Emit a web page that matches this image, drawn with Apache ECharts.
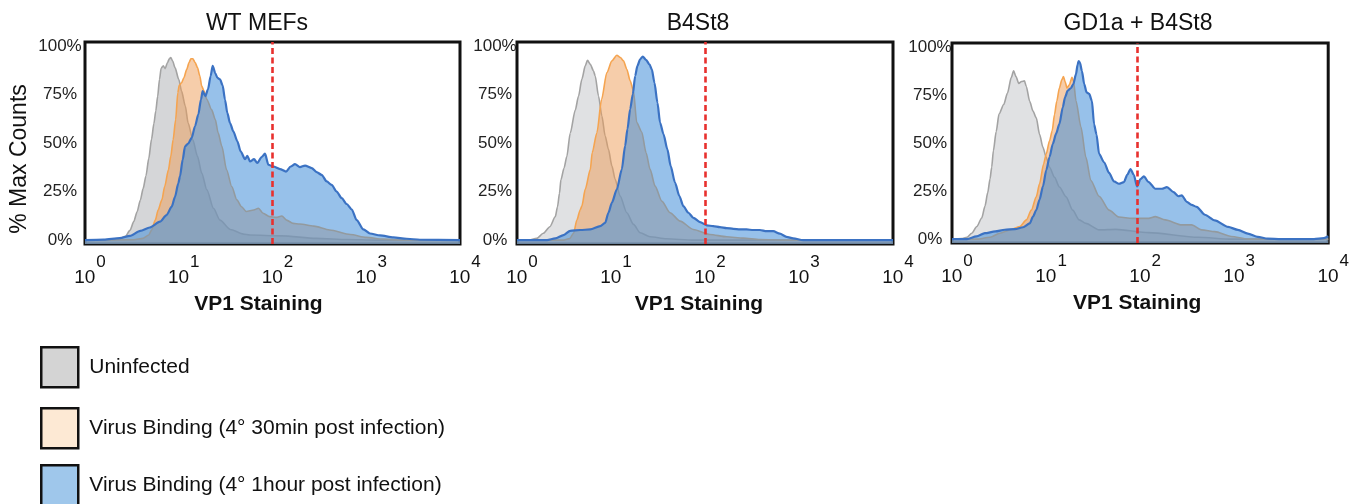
<!DOCTYPE html>
<html>
<head>
<meta charset="utf-8">
<title>VP1 Staining histograms</title>
<script src="https://cdn.jsdelivr.net/npm/echarts@6/dist/echarts.min.js"></script>
<style>
  html, body { margin: 0; padding: 0; background: #ffffff; }
  #chart { width: 1352px; height: 504px; }
</style>
</head>
<body>
<div id="chart"></div>
<script>
// ---------- DATA (x = log10 of VP1 staining, y = % of max counts) ----------
const panelTitles = ['WT MEFs', 'B4St8', 'GD1a + B4St8'];
const seriesNames = ['Uninfected', 'Virus Binding (4\u00b0 30min post infection)', 'Virus Binding (4\u00b0 1hour post infection)'];
const xTickExponents = [0, 1, 2, 3, 4];
const yTicks = [0, 25, 50, 75, 100];
const thresholdLog = [2.0, 2.0, 1.97];

const wtUninfected = [[0,0],[0.3,0.2],[0.37,0.7],[0.43,2],[0.48,5],[0.52,9.5],[0.555,14.5],[0.59,20.5],[0.62,26.5],[0.65,33],[0.68,42],[0.71,52],[0.735,60],[0.755,66.5],[0.775,74],[0.795,82.8],[0.812,88.5],[0.835,89.7],[0.855,88.3],[0.88,91.4],[0.9,93.4],[0.915,94],[0.935,92.2],[0.96,88.8],[1,82.8],[1.03,76.7],[1.07,69],[1.1,60.3],[1.15,51.7],[1.2,43.1],[1.245,34.5],[1.3,25.9],[1.37,16.4],[1.44,10.3],[1.55,5.5],[1.69,3.1],[1.76,2.6],[2.1,2.2],[2.47,0.9],[2.8,0.3],[3.1,0],[4,0]];
const wtVirus30min = [[0,0],[0.52,0.2],[0.62,0.9],[0.68,2.6],[0.71,5.2],[0.75,10.3],[0.78,15.5],[0.82,20.7],[0.85,27.6],[0.89,36.2],[0.915,43.1],[0.94,51.7],[0.967,62.1],[0.99,75.9],[1.005,79.7],[1.03,81],[1.055,83.6],[1.085,87.9],[1.11,91.4],[1.13,93.4],[1.15,93.4],[1.175,91.4],[1.2,88.8],[1.225,84.5],[1.245,79.3],[1.27,76.7],[1.3,72.4],[1.35,67.2],[1.39,62.1],[1.42,55.2],[1.46,48.3],[1.51,36.2],[1.565,27.6],[1.62,20.7],[1.67,17.2],[1.72,14.7],[1.8,15.5],[1.85,16.4],[1.9,13.8],[1.97,12.1],[2.04,11.7],[2.1,12.4],[2.15,10.3],[2.22,8.6],[2.29,8.3],[2.44,7.2],[2.61,5.2],[2.83,2.9],[3,1.4],[3.18,0.5],[3.36,0],[4,0]];
const wtVirus1h = [[0,0],[0.2,0.3],[0.37,1],[0.48,2.2],[0.59,4.8],[0.69,6.5],[0.8,9.5],[0.87,12.9],[0.925,17.2],[0.96,22.3],[0.995,29.2],[1.013,32.8],[1.042,41.4],[1.067,48.3],[1.1,49.7],[1.138,52.6],[1.173,58.6],[1.209,64.7],[1.237,72.4],[1.255,76.7],[1.284,74.1],[1.312,77.6],[1.34,84.5],[1.362,89.7],[1.39,85.9],[1.412,83.6],[1.44,82.8],[1.468,79.7],[1.493,72.4],[1.518,65.5],[1.547,60.3],[1.582,56],[1.625,50.9],[1.66,45.7],[1.707,41.7],[1.732,43.4],[1.76,40.5],[1.803,41.7],[1.838,39.7],[1.884,42.8],[1.92,44.5],[1.956,38.8],[2.009,37.9],[2.08,36.6],[2.144,35.3],[2.194,37.9],[2.24,39.1],[2.293,37.6],[2.347,38.4],[2.418,37.1],[2.471,35],[2.524,33.6],[2.578,30.2],[2.631,28.4],[2.684,25],[2.738,21.6],[2.791,18.6],[2.844,15.9],[2.898,10.3],[2.969,5.5],[3.04,3.4],[3.147,2.4],[3.289,1.4],[3.431,0.7],[3.573,0.2],[4,0]];

const b4Uninfected = [[0,0],[0.12,0],[0.21,0.9],[0.28,3.5],[0.35,6.9],[0.407,12],[0.431,17.2],[0.452,24.1],[0.467,31],[0.5,37],[0.53,43],[0.566,55],[0.62,67],[0.655,74.2],[0.69,82.8],[0.726,89.7],[0.75,92.6],[0.78,90.5],[0.814,87.1],[0.832,84.5],[0.867,74.2],[0.903,63.9],[0.938,53.6],[0.973,46.7],[1.01,38.1],[1.044,31.3],[1.097,22.7],[1.168,14.1],[1.24,8.1],[1.31,3.8],[1.416,1.7],[1.59,0.7],[1.88,0],[4,0]];
const b4Virus30min = [[0,0],[0.5,0],[0.56,0.8],[0.602,3.5],[0.637,10.3],[0.672,15.5],[0.69,17.5],[0.726,26.1],[0.78,36.4],[0.8,45],[0.85,55.3],[0.9,72.5],[0.956,86.3],[1.01,92.3],[1.062,95.2],[1.1,94],[1.133,92.3],[1.168,88],[1.204,82],[1.239,76.8],[1.274,60.5],[1.327,55.7],[1.373,45],[1.416,36.4],[1.469,27.8],[1.54,20.1],[1.628,14.1],[1.735,9.8],[1.876,5.5],[2.053,2.9],[2.23,1.7],[2.407,1],[2.584,0.3],[2.867,0],[4,0]];
const b4Virus1h = [[0,0],[0.32,0],[0.407,0.9],[0.495,2.6],[0.566,4.8],[0.672,5.2],[0.779,5.5],[0.885,7.2],[0.938,8.9],[0.973,14.1],[1.009,19.2],[1.062,26.1],[1.115,36.4],[1.15,48.5],[1.175,57.1],[1.204,67.4],[1.232,75.1],[1.257,84.5],[1.281,89.7],[1.31,93.1],[1.338,94.5],[1.373,92.8],[1.409,90.5],[1.434,88],[1.462,81.1],[1.494,70.8],[1.522,60.5],[1.558,54.6],[1.6,46.7],[1.635,38.1],[1.681,29.6],[1.727,22.7],[1.77,17.5],[1.823,14.1],[1.876,11.5],[1.947,9.3],[2.018,7.6],[2.088,7.2],[2.159,6.7],[2.23,6.2],[2.301,5.8],[2.372,5.5],[2.442,5.5],[2.513,5.2],[2.584,5.2],[2.655,4.6],[2.726,4.6],[2.796,3.3],[2.867,1.7],[2.938,0.9],[3.044,0],[4,0]];

const gdUninfected = [[0,0],[0.1,0.3],[0.16,1],[0.21,3.1],[0.264,6.6],[0.316,11],[0.351,17.2],[0.38,24.2],[0.404,31.2],[0.422,37.4],[0.44,46],[0.47,56],[0.5,65],[0.55,70],[0.59,76],[0.63,84],[0.655,87.5],[0.68,84.6],[0.71,81],[0.74,82],[0.77,82.3],[0.79,79.4],[0.826,71.7],[0.861,66.6],[0.896,63.1],[0.931,54.5],[0.967,47.7],[1.002,42.5],[1.037,37.4],[1.09,32.2],[1.142,27.1],[1.213,22],[1.283,15.1],[1.353,10],[1.424,8.2],[1.564,4.8],[1.74,5.1],[2.09,3.4],[2.62,1],[2.97,0],[4,0]];
const gdVirus30min = [[0,0],[0.264,0],[0.404,1],[0.51,3.1],[0.615,4.8],[0.721,6.5],[0.791,10],[0.844,15.1],[0.896,22],[0.931,28.8],[0.974,39.1],[1.002,44.3],[1.037,51.1],[1.065,56.3],[1.09,64.8],[1.114,71.7],[1.142,78.6],[1.167,82.8],[1.185,84.6],[1.202,82],[1.223,78.6],[1.248,80.3],[1.276,84.1],[1.293,82],[1.318,72],[1.371,58.3],[1.424,42.5],[1.476,30.5],[1.564,22.3],[1.67,15.1],[1.775,11.5],[1.916,10.8],[2.091,10.8],[2.162,11.7],[2.267,10],[2.443,7.4],[2.548,7.4],[2.654,4.8],[2.794,3.9],[2.97,1.4],[3.146,0],[4,0]];
const gdVirus1h = [[0,0],[0.16,0],[0.26,1.4],[0.35,3.1],[0.46,4],[0.56,4.9],[0.668,5.2],[0.756,6.2],[0.826,8.2],[0.861,11.7],[0.896,15.1],[0.931,20.6],[0.967,27.4],[1.002,35.8],[1.037,42.7],[1.072,49.6],[1.107,54.9],[1.142,60],[1.178,68.6],[1.202,73.8],[1.23,77.2],[1.265,78.6],[1.29,80.6],[1.318,85.8],[1.336,90.9],[1.346,92.6],[1.36,91.8],[1.381,87.5],[1.406,80.6],[1.431,76.3],[1.459,75.5],[1.487,72],[1.511,59.7],[1.536,54.5],[1.564,44.3],[1.617,40],[1.67,34.5],[1.722,30],[1.775,28.8],[1.828,29.7],[1.863,33.4],[1.898,36.4],[1.933,33.4],[1.968,27.4],[2.004,31.2],[2.039,32.6],[2.091,29.7],[2.162,26.2],[2.232,26.2],[2.285,27.1],[2.355,24.5],[2.408,22.3],[2.443,22.8],[2.496,19.4],[2.548,17.8],[2.601,16.8],[2.689,12.7],[2.794,9.8],[2.935,6.4],[3.04,4.8],[3.146,2.9],[3.251,1.2],[3.357,0.3],[3.497,0],[3.673,0],[3.849,0],[3.954,0.5],[4,1.5]];

const panelData = [
  [wtUninfected, wtVirus30min, wtVirus1h],
  [b4Uninfected, b4Virus30min, b4Virus1h],
  [gdUninfected, gdVirus30min, gdVirus1h]
];

// ---------- STYLE ----------
const FONT = '"Liberation Sans", Arial, sans-serif';
const grayFills = ['rgba(160,162,166,0.44)', 'rgba(168,172,178,0.36)', 'rgba(168,172,178,0.36)'];
const fills = [null, 'rgba(238,155,85,0.5)', 'rgba(72,146,218,0.57)'];
const lines = ['#a3a3a3', '#f5a450', '#3b72c3'];
const lineWidths = [1.6, 1.6, 2.2];
const legendFills = ['#d4d4d4', '#fde9d4', '#9fc7eb'];
const legendTops = [346, 407, 464];

const grids = [
  { left: 85, top: 42, width: 375, height: 202 },
  { left: 517, top: 42, width: 376, height: 202 },
  { left: 952, top: 43, width: 379, height: 200 }
];
const titleX = [257, 698, 1138];
const xNameShift = [14, 6, 3];
const yLabelMargin = [25, 22, 22];

const chart = echarts.init(document.getElementById('chart'), null, { renderer: 'canvas' });

const series = [];
panelData.forEach((sets, gi) => {
  sets.forEach((d, si) => {
    const s = {
      type: 'line',
      name: seriesNames[si],
      data: d,
      xAxisIndex: gi,
      yAxisIndex: gi,
      showSymbol: false,
      symbol: 'none',
      smooth: 0.25,
      smoothMonotone: 'x',
      z: 2 + si,
      silent: true,
      lineStyle: { color: lines[si], width: lineWidths[si] },
      itemStyle: { color: lines[si] },
      areaStyle: { color: si === 0 ? grayFills[gi] : fills[si], origin: 'start', opacity: 1 }
    };
    if (si === 2) {
      s.markLine = {
        silent: true,
        symbol: ['none', 'none'],
        label: { show: false },
        lineStyle: { color: '#e8302e', type: [6, 3.5], width: 2.6 },
        data: [{ xAxis: thresholdLog[gi] }]
      };
    }
    series.push(s);
  });
});

const option = {
  animation: false,
  backgroundColor: '#ffffff',
  title: panelTitles.map((t, i) => ({
    text: t,
    left: titleX[i],
    top: 12,
    padding: 0,
    textAlign: 'center',
    textStyle: { fontSize: 23, fontWeight: 'normal', color: '#111', fontFamily: FONT }
  })),
  legend: seriesNames.map((n, i) => ({
    orient: 'vertical',
    left: 40,
    top: legendTops[i],
    padding: 0,
    itemWidth: 37,
    itemHeight: 40,
    icon: 'rect',
    selectedMode: false,
    textStyle: { fontSize: 21, color: '#111', fontFamily: FONT, padding: [0, 0, 0, 6] },
    data: [{ name: n, itemStyle: { color: legendFills[i], borderColor: '#111', borderWidth: 2.5 } }]
  })),
  grid: grids.map(g => Object.assign({ show: true, borderColor: '#111', borderWidth: 3, backgroundColor: 'transparent' }, g)),
  xAxis: grids.map((g, i) => ({
    gridIndex: i,
    type: 'value',
    min: 0,
    max: 4,
    interval: 1,
    axisLine: { show: false },
    axisTick: { show: false },
    splitLine: { show: false },
    axisLabel: {
      showMinLabel: true,
      showMaxLabel: true,
      margin: 10,
      color: '#111',
      fontFamily: FONT,
      formatter: v => '{p| }{b|10}{s|' + xTickExponents[Math.round(v)] + '}',
      rich: {
        p: { width: 10, lineHeight: 33, fontSize: 10 },
        b: { fontSize: 19, lineHeight: 20, verticalAlign: 'bottom', fontFamily: FONT, color: '#111' },
        s: { fontSize: 17, lineHeight: 18, verticalAlign: 'top', fontFamily: FONT, color: '#111', padding: [0, 0, 0, 1] }
      }
    },
    name: 'VP1 Staining',
    nameLocation: 'middle',
    nameGap: 50,
    nameTextStyle: { fontSize: 21, fontWeight: 'bold', color: '#111', fontFamily: FONT, padding: [0, xNameShift[i] * 2, 0, 0] }
  })),
  yAxis: grids.map((g, i) => ({
    gridIndex: i,
    type: 'value',
    min: -2,
    max: 102,
    axisLine: { show: false },
    axisTick: { show: false },
    splitLine: { show: false },
    axisLabel: {
      customValues: yTicks,
      formatter: '{value}%',
      align: 'center',
      margin: yLabelMargin[i],
      fontSize: 17,
      color: '#222',
      fontFamily: FONT
    },
    name: i === 0 ? '% Max Counts' : '',
    nameLocation: 'middle',
    nameGap: 54,
    nameTextStyle: { fontSize: 23, color: '#111', fontFamily: FONT, padding: [0, 32, 0, 0] }
  })),
  series: series
};

chart.setOption(option);
</script>
</body>
</html>
